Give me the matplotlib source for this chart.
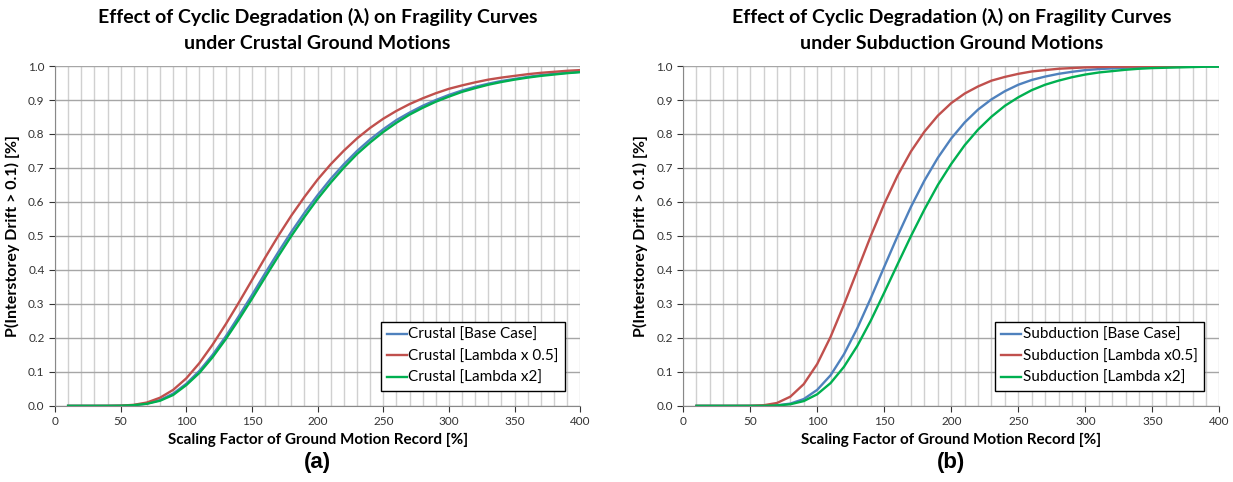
import matplotlib
matplotlib.use("Agg")
from matplotlib import pyplot as plt
from matplotlib.ticker import MultipleLocator, FormatStrFormatter

plt.rcParams['font.family'] = ['Lato', 'DejaVu Sans']

# scaling factor [%]
scale = list(range(10, 410, 10))

# crustal ground motions
crustal_base = [0, 0, 0, 0.00004, 0.0004, 0.002, 0.0066, 0.017, 0.036, 0.065,
                0.103, 0.150, 0.204, 0.264, 0.326, 0.390, 0.452, 0.512, 0.568, 0.620,
                0.668, 0.711, 0.750, 0.784, 0.814, 0.841, 0.863, 0.883, 0.900, 0.915,
                0.928, 0.939, 0.948, 0.956, 0.962, 0.968, 0.973, 0.977, 0.980, 0.983]
crustal_half = [0, 0, 0, 0.0001, 0.0006, 0.003, 0.0098, 0.024, 0.047, 0.081,
                0.126, 0.180, 0.240, 0.304, 0.370, 0.436, 0.500, 0.560, 0.615, 0.666,
                0.711, 0.751, 0.787, 0.818, 0.845, 0.868, 0.888, 0.905, 0.920, 0.933,
                0.943, 0.952, 0.960, 0.966, 0.971, 0.976, 0.980, 0.983, 0.986, 0.988]
crustal_x2 = [0, 0, 0, 0.00003, 0.0003, 0.002, 0.006, 0.015, 0.032, 0.061,
              0.097, 0.143, 0.196, 0.254, 0.315, 0.378, 0.440, 0.500, 0.556, 0.609,
              0.657, 0.701, 0.741, 0.775, 0.806, 0.833, 0.857, 0.877, 0.895, 0.910,
              0.924, 0.935, 0.945, 0.953, 0.960, 0.966, 0.971, 0.975, 0.979, 0.982]

# subduction ground motions
subd_base = [0, 0, 0, 0, 0.00002, 0.0002, 0.0016, 0.0066, 0.020, 0.047,
             0.090, 0.152, 0.229, 0.317, 0.409, 0.500, 0.586, 0.663, 0.730, 0.787,
             0.834, 0.872, 0.902, 0.926, 0.945, 0.959, 0.969, 0.977, 0.983, 0.988,
             0.991, 0.993, 0.995, 0.996, 0.997, 0.998, 0.9986, 0.999, 0.9993, 0.9995]
subd_half = [0, 0, 0, 0.00001, 0.0002, 0.0017, 0.0084, 0.027, 0.064, 0.123,
             0.203, 0.298, 0.399, 0.500, 0.594, 0.678, 0.749, 0.807, 0.854, 0.891,
             0.919, 0.940, 0.957, 0.968, 0.977, 0.984, 0.988, 0.992, 0.994, 0.996,
             0.997, 0.998, 0.998, 0.999, 0.999, 0.9995, 0.9997, 0.9998, 0.9999, 0.9999]
subd_x2 = [0, 0, 0, 0, 0.00001, 0.0002, 0.0011, 0.0047, 0.014, 0.034,
           0.067, 0.115, 0.177, 0.251, 0.333, 0.417, 0.500, 0.578, 0.650, 0.712,
           0.767, 0.813, 0.851, 0.883, 0.908, 0.929, 0.945, 0.957, 0.967, 0.975,
           0.981, 0.985, 0.989, 0.992, 0.994, 0.995, 0.996, 0.997, 0.998, 0.998]

colors = ['#4F81BD', '#C0504D', '#00B050']

panels = [
    ("Effect of Cyclic Degradation (λ) on Fragility Curves\nunder Crustal Ground Motions",
     [crustal_base, crustal_half, crustal_x2],
     ['Crustal [Base Case]', 'Crustal [Lambda x 0.5]', 'Crustal [Lambda x2]'], '(a)'),
    ("Effect of Cyclic Degradation (λ) on Fragility Curves\nunder Subduction Ground Motions",
     [subd_base, subd_half, subd_x2],
     ['Subduction [Base Case]', 'Subduction [Lambda x0.5]', 'Subduction [Lambda x2]'], '(b)'),
]

fig = plt.figure(figsize=(12.33, 4.82), dpi=100)
rects = [[0.0446, 0.158, 0.426, 0.705], [0.554, 0.158, 0.435, 0.705]]

for rect, (title, series, labels, tag) in zip(rects, panels):
    ax = fig.add_axes(rect)
    for vals, lab, c in zip(series, labels, colors):
        ax.plot(scale, vals, color=c, lw=1.7, label=lab)
    ax.set_xlim(0, 400)
    ax.set_ylim(0, 1.0)
    ax.xaxis.set_major_locator(MultipleLocator(50))
    ax.xaxis.set_minor_locator(MultipleLocator(10))
    ax.yaxis.set_major_locator(MultipleLocator(0.1))
    ax.yaxis.set_major_formatter(FormatStrFormatter('%.1f'))
    ax.grid(which='both', axis='x', color='#d0d0d0', lw=1.0)
    ax.grid(which='major', axis='y', color='#a6a6a6', lw=1.0)
    ax.set_axisbelow(True)
    for s in ['top', 'right']:
        ax.spines[s].set_visible(False)
    for s in ['left', 'bottom']:
        ax.spines[s].set_color('#888888')
    ax.tick_params(axis='both', which='major', labelsize=8.5, colors='#333333', length=4)
    ax.tick_params(which='minor', length=0)
    ax.set_title(title, fontsize=14, fontweight='bold', pad=12, linespacing=1.65)
    ax.set_xlabel('Scaling Factor of Ground Motion Record [%]', fontsize=11, fontweight='bold', labelpad=4)
    ax.set_ylabel('P(Interstorey Drift > 0.1) [%]', fontsize=11.5, fontweight='bold', labelpad=6)
    ax.text(0.5, -0.135, tag, transform=ax.transAxes, ha='center', va='top',
            fontsize=16, fontweight='bold', family='Liberation Sans')
    leg = ax.legend(loc='lower right', bbox_to_anchor=(0.985, 0.02), fontsize=11,
                    fancybox=False, framealpha=1, edgecolor='black', handlelength=1.3,
                    handletextpad=0.1, borderpad=0.4, labelspacing=0.5)
    leg.get_frame().set_linewidth(1.0)

fig.savefig('out.png', dpi=100)
